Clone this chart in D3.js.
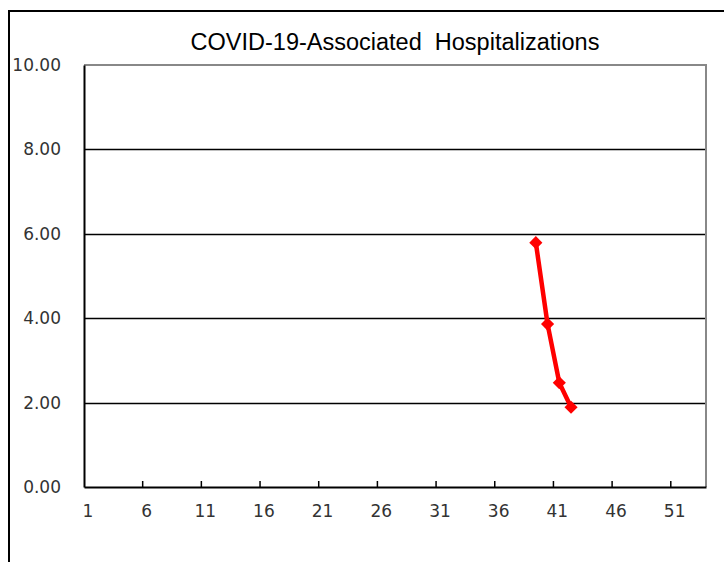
<!DOCTYPE html>
<html><head><meta charset="utf-8">
<script src="https://cdn.jsdelivr.net/npm/d3@7"></script>
<style>body{margin:0;background:#fff}svg{display:block}</style>
</head><body><svg id="c" width="724" height="562"></svg>
<script>
const title = "COVID-19-Associated  Hospitalizations";
const weeks = d3.range(1, 54);            // categories 1..53
const seriesWeeks = [39, 40, 41, 42];
const seriesValues = [5.79, 3.86, 2.47, 1.89];
const yTicks = [0, 2, 4, 6, 8, 10];
const xTickLabels = [1, 6, 11, 16, 21, 26, 31, 36, 41, 46, 51];

const svg = d3.select("#c");
const L = 84, R = 706, T = 65, B = 487;
const x = d3.scaleBand().domain(weeks).range([L, R]).padding(0);
const y = d3.scaleLinear().domain([0, 10]).range([B, T]);
const tickFont = "'DejaVu Sans', sans-serif";

// outer chart border
svg.append("rect").attr("x", 9).attr("y", 11).attr("width", 740).attr("height", 600)
  .attr("fill", "none").attr("stroke", "#000").attr("stroke-width", 2);

// title
svg.append("text").attr("x", 395).attr("y", 50).attr("text-anchor", "middle")
  .style("white-space", "pre").attr("xml:space", "preserve")
  .attr("font-family", "Liberation Sans, Arial, sans-serif").attr("font-size", 23.5)
  .attr("fill", "#000").text(title);

// gridlines
svg.append("g").selectAll("line").data(yTicks.filter(v => v > 0 && v < 10)).join("line")
  .attr("x1", L).attr("x2", R).attr("y1", d => Math.round(y(d)) + 0.5).attr("y2", d => Math.round(y(d)) + 0.5)
  .attr("stroke", "#000").attr("stroke-width", 1.3);

// plot area top/right border (gray)
svg.append("path").attr("d", `M${L},${T}H${R}V${B}`).attr("fill", "none")
  .attr("stroke", "#888").attr("stroke-width", 2);

// y axis
const yAxis = d3.axisLeft(y).tickValues(yTicks).tickFormat(d3.format(".2f")).tickSize(0).tickPadding(23);
const gy = svg.append("g").attr("transform", `translate(${L},0)`).call(yAxis);
gy.select(".domain").attr("stroke", "#000").attr("stroke-width", 2);
gy.selectAll("text").attr("font-family", tickFont).attr("font-size", 17).attr("fill", "#333");

// x axis: ticks between categories, labels at centers
const xAxis = d3.axisBottom(x).tickValues(xTickLabels).tickSize(0).tickPadding(18);
const gx = svg.append("g").attr("transform", `translate(0,${B})`).call(xAxis);
gx.select(".domain").attr("stroke", "#000").attr("stroke-width", 2);
gx.selectAll("text").attr("font-family", tickFont).attr("font-size", 17).attr("fill", "#333").attr("dx", -2);
svg.append("g").selectAll("line").data(xTickLabels.filter(d => d > 1)).join("line")
  .attr("x1", d => x(d)).attr("x2", d => x(d)).attr("y1", B).attr("y2", B - 6)
  .attr("stroke", "#000").attr("stroke-width", 1.5);

// series
const pts = seriesWeeks.map((w, i) => [x(w) + x.bandwidth() / 2, y(seriesValues[i])]);
svg.append("path").attr("d", d3.line()(pts)).attr("fill", "none")
  .attr("stroke", "#ff0000").attr("stroke-width", 4.5).attr("stroke-linejoin", "round");
svg.append("g").selectAll("path").data(pts).join("path")
  .attr("transform", d => `translate(${d[0]},${d[1]})`)
  .attr("d", d3.symbol(d3.symbolDiamond2, 110)).attr("fill", "#ff0000");
</script></body></html>
